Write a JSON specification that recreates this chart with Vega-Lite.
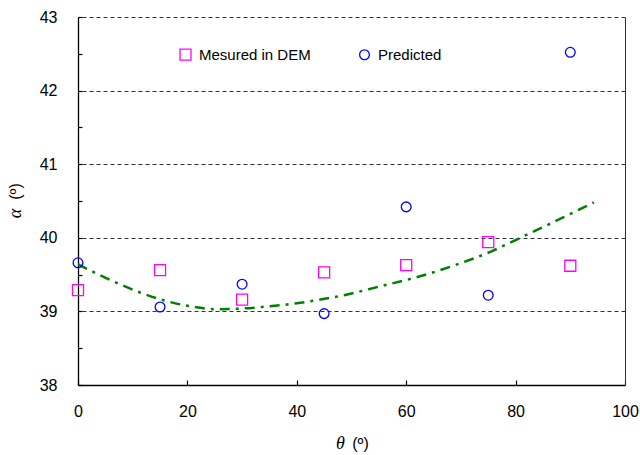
{
  "$schema": "https://vega.github.io/schema/vega-lite/v6.json",
  "width": 547,
  "height": 368,
  "autosize": {"type": "none"},
  "padding": {"left": 78, "top": 17, "right": 15, "bottom": 70},
  "background": "white",
  "config": {
    "view": {"stroke": null},
    "font": "Liberation Sans",
    "axis": {"labelFont": "Liberation Sans", "labelFontSize": 16, "labelColor": "#000", "titleColor": "#000", "domainColor": "#000", "tickColor": "#000", "labelOverlap": false, "labelFlush": false}
  },
  "datasets": {
    "pts": [
      {"theta": 0, "alpha": 39.29, "series": "Mesured in DEM"},
      {"theta": 15, "alpha": 39.56, "series": "Mesured in DEM"},
      {"theta": 30, "alpha": 39.16, "series": "Mesured in DEM"},
      {"theta": 45, "alpha": 39.53, "series": "Mesured in DEM"},
      {"theta": 60, "alpha": 39.63, "series": "Mesured in DEM"},
      {"theta": 75, "alpha": 39.94, "series": "Mesured in DEM"},
      {"theta": 90, "alpha": 39.62, "series": "Mesured in DEM"},
      {"theta": 0, "alpha": 39.66, "series": "Predicted"},
      {"theta": 15, "alpha": 39.06, "series": "Predicted"},
      {"theta": 30, "alpha": 39.37, "series": "Predicted"},
      {"theta": 45, "alpha": 38.97, "series": "Predicted"},
      {"theta": 60, "alpha": 40.42, "series": "Predicted"},
      {"theta": 75, "alpha": 39.22, "series": "Predicted"},
      {"theta": 90, "alpha": 42.52, "series": "Predicted"}
    ],
    "fit": [
      {"theta": 0, "alpha": 39.64},
      {"theta": 7, "alpha": 39.39},
      {"theta": 11.6, "alpha": 39.25},
      {"theta": 16.2, "alpha": 39.14},
      {"theta": 20.5, "alpha": 39.07},
      {"theta": 25.3, "alpha": 39.03},
      {"theta": 30.2, "alpha": 39.04},
      {"theta": 35.1, "alpha": 39.07},
      {"theta": 40, "alpha": 39.11},
      {"theta": 44.2, "alpha": 39.16},
      {"theta": 48.6, "alpha": 39.22},
      {"theta": 55.2, "alpha": 39.34},
      {"theta": 62.2, "alpha": 39.47},
      {"theta": 69, "alpha": 39.63},
      {"theta": 75.7, "alpha": 39.82},
      {"theta": 80, "alpha": 39.97},
      {"theta": 84.3, "alpha": 40.12},
      {"theta": 88.5, "alpha": 40.27},
      {"theta": 94.3, "alpha": 40.48}
    ]
  },
  "resolve": {"axis": {"x": "independent", "y": "independent"}},
  "layer": [
    {
      "data": {"name": "fit"},
      "mark": {"type": "line", "color": "#008000", "strokeWidth": 2.5, "strokeDash": [10, 6, 3, 6], "interpolate": "monotone"},
      "encoding": {
        "x": {"field": "theta", "type": "quantitative", "scale": {"domain": [0, 100], "nice": false},
          "axis": {"orient": "bottom", "values": [0, 20, 40, 60, 80, 100], "tickSize": -5, "tickWidth": 1.2, "labelPadding": 23, "domain": true, "domainWidth": 1.3, "grid": false,
            "title": "θ", "titleFont": "Liberation Serif", "titleFontStyle": "italic", "titleFontWeight": "normal", "titleFontSize": 18, "titleX": 262, "titleY": 63, "titleBaseline": "alphabetic", "titleAlign": "center"}},
        "y": {"field": "alpha", "type": "quantitative", "scale": {"domain": [38, 43], "nice": false, "zero": false},
          "axis": {"orient": "right", "values": [39, 40, 41, 42, 43], "grid": true, "gridDash": [4, 3], "gridColor": "#333", "gridWidth": 1, "ticks": false, "labels": false, "domain": true, "domainColor": "#333", "domainWidth": 1,
            "title": "(º)", "titleFont": "Liberation Sans", "titleFontWeight": "normal", "titleFontSize": 16, "titleAngle": -90, "titleX": -605, "titleY": 174, "titleBaseline": "alphabetic", "titleAlign": "center"}}
      }
    },
    {
      "data": {"name": "pts"},
      "mark": {"type": "point", "filled": false, "strokeWidth": 1.3, "opacity": 1},
      "encoding": {
        "x": {"field": "theta", "type": "quantitative", "scale": {"domain": [0, 100], "nice": false},
          "axis": {"orient": "bottom", "domain": false, "ticks": false, "labels": false, "grid": false,
            "title": "(º)", "titleFont": "Liberation Sans", "titleFontWeight": "normal", "titleFontSize": 16, "titleX": 282, "titleY": 63, "titleBaseline": "alphabetic", "titleAlign": "center"}},
        "y": {"field": "alpha", "type": "quantitative", "scale": {"domain": [38, 43], "nice": false, "zero": false},
          "axis": {"orient": "left", "values": [38, 38.5, 39, 39.5, 40, 40.5, 41, 41.5, 42, 42.5, 43], "tickSize": -4, "tickWidth": 1.2, "labelExpr": "datum.value % 1 === 0 ? format(datum.value, 'd') : ''", "labelPadding": 25, "grid": false, "domain": true, "domainWidth": 1.3,
            "title": "α", "titleFont": "Liberation Serif", "titleFontStyle": "italic", "titleFontWeight": "normal", "titleFontSize": 18, "titleAngle": -90, "titleX": -58, "titleY": 196, "titleBaseline": "alphabetic", "titleAlign": "center"}},
        "color": {"field": "series", "type": "nominal", "scale": {"domain": ["Mesured in DEM", "Predicted"], "range": ["#FF00FF", "#0000FF"]},
          "legend": {"orient": "none", "legendX": 100, "legendY": 30, "direction": "horizontal", "title": null, "labelFont": "Liberation Sans", "labelFontSize": 15, "labelColor": "#000", "symbolSize": 55, "symbolStrokeWidth": 1.3, "labelOffset": 6, "columnPadding": 46}},
        "shape": {"field": "series", "type": "nominal", "scale": {"domain": ["Mesured in DEM", "Predicted"], "range": ["square", "circle"]}},
        "size": {"field": "series", "type": "nominal", "scale": {"domain": ["Mesured in DEM", "Predicted"], "range": [121, 95]}, "legend": null}
      }
    }
  ]
}
